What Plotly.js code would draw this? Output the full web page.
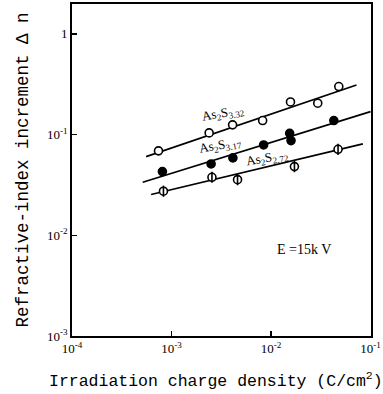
<!DOCTYPE html>
<html>
<head>
<meta charset="utf-8">
<script src="https://cdn.plot.ly/plotly-3.0.1.min.js"></script>
<style>html,body{margin:0;padding:0;background:#fff;}#chart{width:383px;height:394px;}</style>
</head>
<body>
<div id="chart"></div>
<script>
// As2S3.32 (open circles)
const xA332 = [7.4e-4, 2.39e-3, 4.11e-3, 8.24e-3, 0.0157, 0.0295, 0.048];
const yA332 = [0.069, 0.104, 0.125, 0.138, 0.211, 0.205, 0.300];
// As2S3.17 (filled circles)
const xA317 = [8.1e-4, 2.5e-3, 4.14e-3, 8.43e-3, 0.0154, 0.0159, 0.0428];
const yA317 = [0.0429, 0.0511, 0.0587, 0.0789, 0.103, 0.0872, 0.138];
// As2S2.72 (barred circles)
const xA272 = [8.3e-4, 2.55e-3, 4.61e-3, 0.0172, 0.0472];
const yA272 = [0.0274, 0.0377, 0.0357, 0.0481, 0.0715];
// fitted lines (end points)
const fitX332 = [5.56e-4, 0.0723], fitY332 = [0.0605, 0.311];
const fitX317 = [5.14e-4, 0.100],  fitY317 = [0.0336, 0.169];
const fitX272 = [6.24e-4, 0.0838], fitY272 = [0.0254, 0.0808];
// tick labels
const xTickVals = [1e-4, 1e-3, 1e-2, 1e-1];
const xTickText = ['10<sup>-4</sup>', '10<sup>-3</sup>', '10<sup>-2</sup>', '10<sup>-1</sup>'];
const yTickVals = [1e-3, 1e-2, 1e-1, 1];
const yTickText = ['10<sup>-3</sup>', '10<sup>-2</sup>', '10<sup>-1</sup>', '1'];
const seriesLabels = ['As<sub>2</sub>S<sub>3.32</sub>', 'As<sub>2</sub>S<sub>3.17</sub>', 'As<sub>2</sub>S<sub>2.72</sub>'];
const xTitle = 'Irradiation charge density (C/cm<sup>2</sup>)';
const yTitle = 'Refractive-index increment \u0394 n';

const lineStyle = {color: '#000', width: 1.7};
const traces = [
  {x: fitX332, y: fitY332, mode: 'lines', line: lineStyle},
  {x: fitX317, y: fitY317, mode: 'lines', line: lineStyle},
  {x: fitX272, y: fitY272, mode: 'lines', line: lineStyle},
  {x: xA332, y: yA332, mode: 'markers', marker: {symbol: 'circle', size: 8, color: '#fff', line: {color: '#000', width: 1.6}}},
  {x: xA317, y: yA317, mode: 'markers', marker: {symbol: 'circle', size: 8, color: '#000', line: {color: '#000', width: 1.6}}},
  {x: xA272, y: yA272, mode: 'markers', marker: {symbol: 'circle', size: 8, color: '#fff', line: {color: '#000', width: 1.6}}},
  {x: xA272, y: yA272, mode: 'markers', marker: {symbol: 'line-ns-open', size: 8, color: '#000', line: {color: '#000', width: 1.6}}}
];

const serif = 'Liberation Serif, serif';
const mono = 'Liberation Mono, monospace';
const layout = {
  width: 383, height: 394,
  margin: {l: 72, r: 12, t: 4, b: 58},
  paper_bgcolor: '#fff', plot_bgcolor: '#fff',
  showlegend: false,
  font: {family: serif, color: '#000'},
  xaxis: {
    type: 'log', range: [-4, -0.995],
    tickvals: xTickVals, ticktext: xTickText,
    ticks: 'inside', ticklen: 5, tickwidth: 1.3, tickcolor: '#000',
    showline: true, linecolor: '#000', linewidth: 1.8, mirror: true,
    showgrid: false, zeroline: false,
    tickfont: {family: serif, size: 13, color: '#000'}
  },
  yaxis: {
    type: 'log', range: [-3, 0.297],
    tickvals: yTickVals, ticktext: yTickText,
    ticks: 'inside', ticklen: 5, tickwidth: 1.3, tickcolor: '#000',
    showline: true, linecolor: '#000', linewidth: 1.8, mirror: true,
    showgrid: false, zeroline: false,
    tickfont: {family: serif, size: 13, color: '#000'},
    title: {text: yTitle, font: {family: mono, size: 17.5, color: '#000'}, standoff: 14}
  },
  annotations: [
    {x: -2.477, y: -0.795, xref: 'x', yref: 'y', text: seriesLabels[0], showarrow: false, textangle: -10, font: {family: serif, size: 13, color: '#000'}},
    {x: -2.503, y: -1.105, xref: 'x', yref: 'y', text: seriesLabels[1], showarrow: false, textangle: -10, font: {family: serif, size: 13, color: '#000'}},
    {x: -2.040, y: -1.24, xref: 'x', yref: 'y', text: seriesLabels[2], showarrow: false, textangle: -10, font: {family: serif, size: 13, color: '#000'}},
    {x: -1.671, y: -2.136, xref: 'x', yref: 'y', text: 'E =15k V', showarrow: false, font: {family: serif, size: 14, color: '#000'}},
    {x: 0.4816, y: -0.1325, xref: 'paper', yref: 'paper', xanchor: 'center', yanchor: 'middle', text: xTitle, showarrow: false, font: {family: mono, size: 16.5, color: '#000'}}
  ]
};

Plotly.newPlot('chart', traces, layout, {displayModeBar: false, staticPlot: true});
</script>
</body>
</html>
